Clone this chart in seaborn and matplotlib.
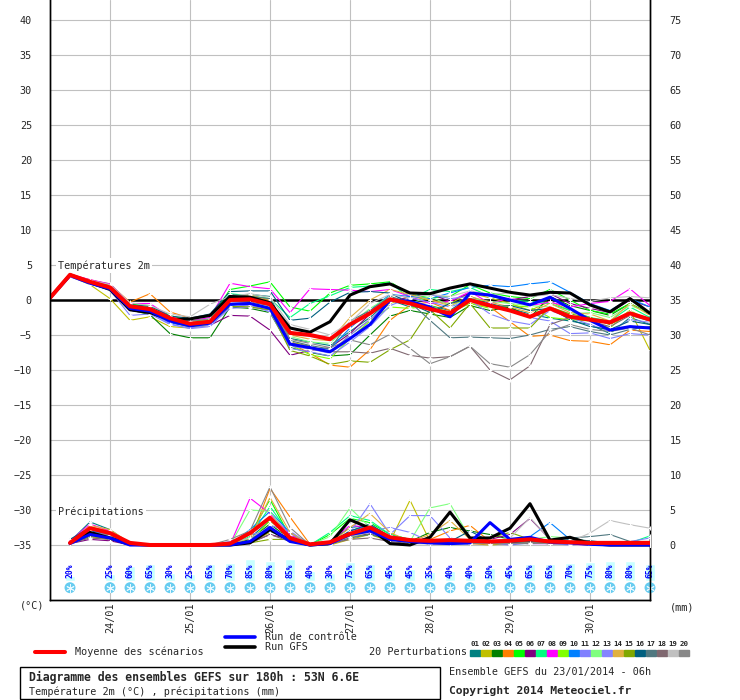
import numpy as np
import pandas as pd
import matplotlib
matplotlib.use("Agg")
import matplotlib.pyplot as plt
import matplotlib.patches as mpatches
import seaborn as sns

# ---- data -------------------------------------------------------------
steps = list(range(31))                      # 6h steps, 23/01 06h -> +180h
date_ticks = [3, 7, 11, 15, 19, 23, 27]
date_labels = ["24/01", "25/01", "26/01", "27/01", "28/01", "29/01", "30/01"]

snow_steps = [1] + list(range(3, 31))
snow_pct = [20, 25, 60, 65, 30, 25, 65, 70, 85, 80, 85, 40, 30, 75, 65,
            45, 45, 35, 40, 40, 50, 45, 65, 65, 70, 75, 80, 80, 65]

pert_names = [f"{i:02d}" for i in range(1, 21)]
pert_colors = ["#008080", "#c0c000", "#008000", "#ff8000", "#00ff00",
               "#800080", "#00ff80", "#ff00ff", "#80ff00", "#0080ff",
               "#8080ff", "#80ff80", "#8484ff", "#e0b040", "#80a800",
               "#006080", "#507880", "#806870", "#c0c0c0", "#888888"]

mean_t = [0.3, 3.6, 2.6, 1.8, -0.9, -1.3, -2.6, -3.4, -3.1, 0.0, 0.1, -0.6, -4.7, -5.0, -5.6, -3.5,
          -1.9, 0.1, -0.5, -1.3, -1.9, 0.0, -0.8, -1.5, -2.4, -1.2, -2.4, -2.8, -3.2, -1.9, -2.8]
gfs_t = [0.3, 3.6, 2.5, 1.5, -1.4, -1.8, -2.8, -2.7, -2.2, 0.5, 0.4, -0.4, -4.0, -4.6, -3.1, 0.7,
         1.9, 2.3, 1.0, 0.9, 1.7, 2.3, 1.7, 1.1, 0.7, 1.1, 1.0, -0.7, -1.7, 0.2, -1.9]
ctrl_t = [0.3, 3.5, 2.4, 1.6, -1.2, -1.6, -3.0, -3.7, -3.3, -0.6, -0.5, -1.2, -6.3, -6.8, -7.4, -5.5,
          -3.5, 0.0, -0.2, -1.0, -2.4, 1.0, 0.7, 0.0, -0.7, 0.4, -1.2, -2.9, -4.3, -3.8, -4.0]

pert_t = [
    [0.3, 3.5, 2.5, 1.7, -1.0, -1.5, -2.9, -3.5, -3.0, 0.3, 0.8, 0.5, -5.5, -6.0, -6.5, -4.5,
     -2.5, 0.0, -1.0, -0.8, -1.5, 0.5, -0.5, -1.2, -2.0, -2.6, -3.0, -3.5, -4.8, -2.5, -3.5],
    [0.3, 3.4, 2.2, 0.2, -2.9, -2.4, -3.8, -4.0, -3.6, -1.0, -0.8, -1.2, -6.0, -6.6, -7.5, -5.0,
     -2.8, -0.5, 0.5, 0.0, -0.5, 1.0, 0.3, -0.5, -1.5, -0.2, -1.5, -2.5, -3.5, -1.5, -7.2],
    [0.3, 3.5, 2.6, 1.6, -1.4, -2.1, -4.8, -5.4, -5.4, -1.0, -1.2, -1.8, -6.8, -7.5, -8.0, -7.8,
     -5.0, -2.3, -1.5, -2.0, -2.5, -0.8, -1.5, -1.0, -2.5, 0.5, -0.8, -1.5, -2.2, -0.5, -2.0],
    [0.3, 3.6, 2.9, 2.2, -0.3, 0.9, -1.7, -2.6, -2.2, 0.3, 0.6, -0.2, -6.2, -7.6, -9.3, -9.6,
     -7.1, -2.9, -0.7, -0.3, -1.5, -0.5, -1.0, -3.1, -5.2, -5.0, -5.8, -5.9, -6.4, -4.3, -4.5],
    [0.3, 3.7, 2.8, 2.3, -0.6, -0.8, -2.2, -3.0, -2.8, 1.5, 2.0, 2.6, -1.0, -1.6, 1.0, 2.1,
     2.3, 2.6, 0.8, 0.3, 0.5, 2.2, 1.0, 0.5, 0.2, 1.5, 0.0, -1.5, -2.0, -0.5, -2.0],
    [0.3, 3.6, 2.5, 1.5, -1.5, -1.9, -3.2, -3.8, -3.6, -2.2, -2.3, -4.3, -7.9, -7.2, -6.8, -4.8,
     -2.0, -0.3, 0.5, 0.9, -0.2, 1.0, 0.8, 0.0, 0.5, 0.9, -0.5, -1.2, -1.8, 0.0, -1.0],
    [0.3, 3.6, 2.7, 2.0, -0.8, -1.0, -2.7, -3.3, -2.9, 0.9, 0.6, 0.2, -2.5, -0.5, 0.6, 1.8,
     2.0, 2.5, 0.2, 1.5, 1.2, 1.8, 0.5, 0.0, -0.2, -0.5, -1.5, -2.5, -3.0, -1.0, -2.5],
    [0.3, 3.7, 2.9, 2.3, -0.5, -0.5, -2.4, -3.0, -2.5, 2.4, 1.9, 1.6, -1.8, 1.6, 1.5, 1.4,
     1.2, 1.5, 0.5, -0.5, -0.2, 1.2, -0.5, 0.3, -0.8, -0.3, -1.0, -0.5, -0.2, 1.6, -0.8],
    [0.3, 3.5, 2.6, 1.8, -1.2, -1.4, -3.1, -3.9, -3.5, -0.5, -0.6, -1.0, -6.4, -7.8, -8.4, -5.5,
     -3.0, -1.0, -1.2, -0.8, -1.8, -0.5, -1.2, -0.8, -1.0, -2.5, -2.8, -3.0, -4.0, -1.5, -3.0],
    [0.3, 3.4, 2.4, 1.5, -1.3, -1.8, -3.3, -3.7, -3.4, -0.8, -0.4, -1.3, -6.2, -6.9, -7.0, -4.0,
     -1.5, 0.8, 0.5, 0.2, 1.0, 1.8, 2.1, 1.9, 2.3, 2.6, 1.1, -0.5, -1.5, 0.2, -1.0],
    [0.3, 3.3, 2.3, 1.4, -2.2, -2.0, -3.5, -4.0, -3.6, -1.2, -1.0, -1.5, -6.6, -7.0, -7.6, -5.0,
     -2.8, -0.2, 1.0, 0.8, 0.2, 0.5, -1.0, -1.5, -2.5, -3.0, -4.8, -4.7, -5.5, -4.8, -5.0],
    [0.3, 3.6, 2.7, 1.9, -1.0, -1.1, -2.9, -3.6, -3.3, -0.3, 0.2, -0.5, -5.2, -6.0, -6.2, -3.5,
     -1.2, 0.5, -0.5, 0.5, -0.8, 0.2, -0.2, -0.5, -0.8, -1.0, -2.0, -1.8, -2.5, -0.8, -1.8],
    [0.3, 3.5, 2.5, 1.6, -1.6, -1.7, -3.4, -4.1, -3.8, -1.0, -0.7, -1.7, -6.9, -7.4, -8.0, -6.0,
     -3.8, -0.8, 0.3, -0.3, -1.0, 0.0, -2.0, -3.0, -3.5, -1.5, -2.5, -3.5, -4.5, -2.8, -3.2],
    [0.3, 3.6, 2.8, 2.1, -0.9, -1.2, -2.6, -3.2, -2.9, 0.6, 0.7, 0.0, -5.0, -5.6, -5.8, -2.5,
     0.0, 1.5, 0.8, 0.0, -0.8, 0.5, -0.3, -1.0, -1.8, -0.5, -1.8, -2.0, -3.0, -0.5, -2.2],
    [0.3, 3.5, 2.6, 1.7, -1.3, -1.5, -3.0, -3.6, -3.2, -0.9, -1.0, -1.4, -7.2, -8.0, -9.2, -8.7,
     -8.9, -7.1, -5.7, -1.4, -4.0, -0.5, -4.0, -4.0, -4.0, -1.0, -2.0, -2.5, -3.5, -2.0, -3.0],
    [0.3, 3.6, 2.7, 2.0, -0.7, -0.9, -2.3, -2.6, -2.0, 1.2, 1.3, 1.3, -2.9, -2.6, -0.3, 1.1,
     1.2, 1.0, -0.5, -1.8, -0.5, 0.2, -1.0, -0.8, -1.5, -1.2, -2.8, -3.8, -4.2, -3.0, -3.5],
    [0.3, 3.5, 2.6, 1.8, -1.1, -1.3, -2.8, -3.4, -3.1, 0.8, 0.5, 0.2, -5.8, -6.5, -7.0, -3.0,
     -1.5, 0.5, -0.3, -2.9, -5.4, -5.3, -5.4, -5.5, -5.0, -4.2, -3.8, -4.5, -5.0, -4.2, -3.8],
    [0.3, 3.5, 2.5, 1.7, -1.2, -1.6, -3.0, -3.7, -3.3, -0.2, -0.3, -0.8, -6.0, -7.0, -7.4, -7.4,
     -7.6, -6.9, -7.9, -8.3, -8.1, -6.6, -10.0, -11.4, -9.4, -3.5, -2.5, -3.0, -3.8, -2.2, -3.0],
    [0.3, 3.6, 2.8, 2.2, -0.4, -0.8, -2.0, -2.4, -0.6, 0.5, 0.9, 0.4, -3.5, -4.2, -5.0, -3.2,
     -0.5, 0.8, 0.3, 0.8, 0.5, 1.3, 0.8, 1.0, 0.5, 0.8, 0.2, -0.2, 0.3, 0.5, 0.3],
    [0.3, 3.6, 2.7, 1.9, -0.8, -1.1, -2.6, -3.0, -2.7, 0.4, 0.3, -0.5, -5.6, -6.2, -6.8, -5.7,
     -6.4, -4.9, -6.9, -9.1, -8.1, -6.6, -9.1, -9.6, -7.8, -4.5, -3.5, -4.2, -4.5, -4.0, -5.0],
]

nan = np.nan
mean_p = [nan, 0.3, 2.4, 1.7, 0.3, 0, 0, 0, 0, 0.2, 1.7, 3.9, 1.0, 0.1, 0.4, 1.6,
          2.5, 1.1, 0.7, 0.6, 0.7, 0.6, 0.5, 0.6, 0.8, 0.5, 0.4, 0.3, 0.3, 0.3, 0.3]
gfs_p = [nan, 0.3, 1.8, 1.0, 0.1, 0, 0, 0, 0, 0, 0.3, 2.2, 0.7, 0.0, 0.2, 3.6,
         2.4, 0.2, 0.0, 1.1, 4.7, 1.0, 1.0, 2.4, 5.9, 0.7, 1.1, 0.2, 0, 0, 0]
ctrl_p = [nan, 0.2, 1.5, 1.0, 0.0, 0, 0, 0, 0, 0, 0.5, 2.5, 0.5, 0.0, 0.2, 1.5,
          2.0, 0.8, 0.5, 0.3, 0.2, 0.3, 3.2, 0.8, 1.1, 0.4, 0.3, 0.1, 0, 0, 0]

pert_p = [
    [nan, 0.5, 3.3, 2.2, 0.2, 0, 0, 0, 0, 0, 1.0, 3.5, 1.2, 0.0, 0.5, 2.5, 2.8, 1.2, 0.5, 0.3, 0.2, 0.3, 0.5, 0.8, 0.3, 0.2, 0.3, 0.5, 0.3, 0.2, 0.5],
    [nan, 0.2, 1.2, 0.8, 0.0, 0, 0, 0, 0, 0, 0.3, 1.8, 1.8, 0.0, 0.0, 0.8, 1.5, 0.5, 6.4, 0.5, 0.3, 0.2, 0.0, 0.2, 0.5, 0.3, 0.2, 0.0, 0.2, 0.0, 0.0],
    [nan, 0.3, 2.0, 1.5, 0.1, 0, 0, 0, 0, 0, 0.8, 3.0, 0.8, 0.0, 0.3, 1.5, 2.0, 0.8, 0.5, 1.8, 2.5, 2.0, 1.5, 0.8, 0.5, 0.3, 0.3, 0.3, 0.2, 0.2, 0.4],
    [nan, 0.4, 2.6, 2.0, 0.3, 0, 0, 0, 0, 0, 0.5, 8.1, 4.0, 0.1, 0.2, 1.0, 2.2, 0.8, 0.5, 0.8, 2.0, 2.8, 0.5, 0.3, 0.2, 0.5, 0.2, 0.0, 0.0, 0.2, 0.3],
    [nan, 0.3, 2.2, 1.8, 0.2, 0, 0, 0, 0, 0, 1.5, 6.5, 1.2, 0.0, 1.5, 3.8, 3.2, 1.5, 0.8, 0.5, 0.3, 0.3, 0.5, 0.5, 0.3, 0.3, 0.2, 0.2, 0.0, 0.2, 0.5],
    [nan, 0.2, 0.8, 0.6, 0.0, 0, 0, 0, 0, 0, 0.3, 1.5, 0.8, 0.0, 0.2, 1.2, 1.6, 0.8, 0.3, 0.2, 0.2, 0.5, 0.8, 1.5, 3.8, 0.8, 0.4, 0.2, 0.0, 0.0, 0.0],
    [nan, 0.4, 2.4, 1.9, 0.2, 0, 0, 0, 0, 0, 1.2, 5.5, 1.5, 0.0, 1.8, 4.2, 3.5, 1.5, 0.8, 0.6, 0.5, 0.3, 0.5, 0.3, 0.5, 0.5, 0.3, 0.2, 0.2, 0.3, 1.3],
    [nan, 0.6, 3.0, 2.0, 0.2, 0, 0, 0, 0, 0, 6.7, 4.5, 1.5, 0.0, 0.5, 2.8, 2.5, 1.0, 0.5, 0.3, 0.3, 0.2, 0.2, 0.3, 0.2, 0.2, 0.1, 0.0, 0.0, 0.0, 0.0],
    [nan, 0.3, 1.8, 1.2, 0.1, 0, 0, 0, 0, 0, 0.5, 3.5, 1.0, 0.0, 0.3, 1.8, 2.2, 1.0, 0.3, 0.2, 0.3, 0.2, 0.3, 0.5, 0.3, 0.2, 0.2, 0.1, 0.0, 0.0, 0.2],
    [nan, 0.5, 2.0, 1.5, 0.2, 0, 0, 0, 0, 0, 2.2, 4.8, 1.8, 0.0, 0.2, 2.0, 2.8, 1.0, 0.5, 0.3, 0.2, 0.2, 0.5, 0.8, 1.2, 3.2, 0.8, 0.2, 0.2, 0.0, 0.0],
    [nan, 0.3, 2.2, 1.6, 0.0, 0, 0, 0, 0, 0, 0.5, 2.8, 2.0, 0.0, 0.3, 1.8, 5.9, 1.5, 4.2, 4.2, 1.0, 0.5, 0.3, 0.0, 0.3, 0.2, 0.0, 0.2, 0.0, 0.5, 1.0],
    [nan, 0.3, 1.5, 1.0, 0.1, 0, 0, 0, 0, 0, 5.0, 4.8, 1.0, 0.0, 1.2, 5.3, 2.5, 1.2, 0.5, 5.3, 5.9, 1.0, 0.5, 0.3, 0.8, 1.2, 1.0, 0.5, 0.3, 0.2, 0.5],
    [nan, 0.2, 1.8, 1.5, 0.0, 0, 0, 0, 0, 0.5, 1.5, 2.0, 1.2, 0.3, 0.2, 1.0, 2.0, 2.5, 1.8, 0.5, 0.3, 0.2, 0.5, 0.3, 0.2, 0.2, 0.1, 0.2, 0.0, 0.5, 0.3],
    [nan, 0.4, 2.8, 2.2, 0.3, 0, 0, 0, 0, 0, 1.0, 6.8, 1.8, 0.0, 0.2, 2.5, 4.5, 1.8, 0.5, 1.5, 3.5, 0.8, 0.3, 0.5, 0.3, 0.2, 0.2, 0.0, 0.0, 0.0, 0.0],
    [nan, 0.2, 1.2, 1.0, 0.0, 0, 0, 0, 0, 0, 0.3, 0.8, 0.8, 0.0, 0.3, 1.2, 1.5, 0.8, 0.3, 0.5, 0.5, 0.5, 1.0, 1.8, 0.8, 0.5, 0.3, 0.2, 0.0, 0.0, 0.0],
    [nan, 0.8, 2.5, 1.8, 0.2, 0, 0, 0, 0, 0, 0.5, 2.0, 0.5, 0.0, 0.3, 2.0, 3.0, 1.2, 0.5, 0.3, 0.5, 2.0, 0.5, 0.3, 0.5, 0.3, 0.8, 0.6, 0.3, 0.2, 0.2],
    [nan, 0.3, 1.5, 1.2, 0.0, 0, 0, 0, 0, 0, 0.5, 2.5, 0.8, 0.0, 0.2, 1.0, 1.5, 0.8, 0.3, 0.2, 0.2, 0.2, 0.3, 0.2, 0.2, 0.5, 1.0, 1.2, 1.5, 0.5, 0.5],
    [nan, 0.2, 1.0, 0.8, 0.0, 0, 0, 0, 0, 0, 0.3, 1.5, 0.5, 0.0, 0.2, 0.8, 1.0, 0.5, 0.2, 0.2, 0.2, 0.3, 0.2, 0.2, 0.3, 0.2, 0.2, 0.0, 0.2, 0.3, 0.3],
    [nan, 0.3, 1.5, 1.2, 0.0, 0, 0, 0, 0, 0.3, 1.0, 2.5, 1.0, 0.0, 0.2, 1.2, 1.8, 1.0, 0.3, 0.2, 0.3, 0.5, 0.5, 1.0, 3.9, 0.8, 0.5, 1.7, 3.5, 2.9, 2.4],
    [nan, 0.3, 1.8, 1.4, 0.1, 0, 0, 0, 0, 0.8, 2.0, 8.3, 2.5, 0.0, 0.2, 1.5, 2.2, 1.0, 0.5, 0.3, 0.2, 0.3, 0.2, 0.2, 0.3, 0.2, 0.3, 0.3, 0.2, 0.2, 0.4],
]

# ---- figure -------------------------------------------------------------
sns.set_theme(style="white")
plt.rcParams["font.family"] = ["DejaVu Sans Mono", "DejaVu Sans"]
FS = 7.3

fig = plt.figure(figsize=(7.4, 7.0), dpi=100)
ax = fig.add_axes([50 / 740, 100 / 700, 600 / 740, 600 / 700])
ax2 = ax.twinx()
ylo, yhi = -35 - 55 / 7, 40 + 20 / 7
ax.set_xlim(0, 30)
ax.set_ylim(ylo, yhi)
ax2.set_ylim(ylo + 35, yhi + 35)

# long tables for seaborn
rows_t, rows_p = [], []
for name, tv, pv in zip(pert_names, pert_t, pert_p):
    for s, t, p in zip(steps, tv, pv):
        rows_t.append((name, s, t))
        rows_p.append((name, s, p))
df_t = pd.DataFrame(rows_t, columns=["member", "step", "val"])
df_p = pd.DataFrame(rows_p, columns=["member", "step", "val"]).dropna()
pal = dict(zip(pert_names, pert_colors))

line_kw = dict(x="step", y="val", hue="member", palette=pal, legend=False,
               estimator=None, linewidth=0.8, marker="+", markersize=3,
               markeredgewidth=0.7)
sns.lineplot(data=df_t, ax=ax, zorder=3, **line_kw)
sns.lineplot(data=df_p, ax=ax2, zorder=3, **line_kw)

for a, series in ((ax, (gfs_t, ctrl_t, mean_t)), (ax2, (gfs_p, ctrl_p, mean_p))):
    g, c, m = series
    sns.lineplot(x=steps, y=g, ax=a, color="black", linewidth=2.2, zorder=4)
    sns.lineplot(x=steps, y=c, ax=a, color="#0000ff", linewidth=2.2, zorder=5)
    sns.lineplot(x=steps, y=m, ax=a, color="#ff0000", linewidth=2.9, zorder=6)

ax.axhline(0, color="black", linewidth=1.8, zorder=2)

# grid and axes
ax.set_yticks(range(-35, 41, 5))
ax2.set_yticks(range(0, 76, 5))
ax.set_xticks(date_ticks)
ax.set_xticklabels(date_labels, rotation=90, fontsize=FS)
ax.grid(True, color="#c0c0c0", linewidth=0.8, zorder=0)
ax.set_axisbelow(True)
ax.tick_params(axis="y", length=0, pad=13, labelsize=FS)
ax.tick_params(axis="x", length=0, pad=2)
ax2.tick_params(axis="y", length=0, pad=14, labelsize=FS)
ax.set_xlabel("")
ax.set_ylabel("")
ax2.set_ylabel("")
for a in (ax, ax2):
    a.spines["top"].set_visible(False)
    for side in ("left", "bottom", "right"):
        a.spines[side].set_color("black")
        a.spines[side].set_linewidth(1.0)

ax.text(0.4, 4.9, "Températures 2m", fontsize=FS, va="center", zorder=2.5,
        bbox=dict(facecolor="white", edgecolor="none", pad=1.5))
ax.text(0.4, -30.3, "Précipitations", fontsize=FS, va="center", zorder=2.5,
        bbox=dict(facecolor="white", edgecolor="none", pad=1.5))

# snow probability strip
bar_base = -40.1
ax.bar(snow_steps, [p * 0.25 / 7 for p in snow_pct], bottom=bar_base, width=0.5,
       color="#c8ffff", zorder=1, clip_on=False)
for s, p in zip(snow_steps, snow_pct):
    ax.text(s, -38.7, f"{p}%", rotation=90, ha="center", va="center",
            fontsize=5.8, color="#0000ff", fontweight="bold", zorder=2,
            clip_on=False)
ax.scatter(snow_steps, [-41.1] * len(snow_steps), s=62, color="#66ccf0",
           edgecolors="none", zorder=7, clip_on=False)
ax.scatter(snow_steps, [-41.1] * len(snow_steps), s=30, marker=(6, 2, 0),
           color="#e8f8ff", linewidths=0.7, zorder=7.2, clip_on=False)

# ---- legend / captions in pixel coordinates --------------------------------
lg = fig.add_axes([0, 0, 1, 1], facecolor="none")
lg.set_xlim(0, 740)
lg.set_ylim(700, 0)
lg.axis("off")

lg.text(20, 606, "(°C)", fontsize=FS, va="center")
lg.text(670, 607, "(mm)", fontsize=FS, va="center")

lg.plot([35, 65], [652, 652], color="#ff0000", linewidth=2.9)
lg.text(75, 652, "Moyenne des scénarios", fontsize=FS, va="center")
lg.plot([225, 255], [637, 637], color="#0000ff", linewidth=2.6)
lg.text(265, 637, "Run de contrôle", fontsize=FS, va="center")
lg.plot([225, 255], [647, 647], color="black", linewidth=2.6)
lg.text(265, 647, "Run GFS", fontsize=FS, va="center")
lg.text(369, 652, "20 Perturbations", fontsize=FS, va="center")
for i, (name, col) in enumerate(zip(pert_names, pert_colors)):
    x0 = 470 + 11 * i
    lg.add_patch(mpatches.Rectangle((x0, 650), 10, 6, color=col))
    lg.text(x0 + 5, 644, name, fontsize=5.3, ha="center", va="center",
            fontweight="bold")

lg.add_patch(mpatches.Rectangle((20, 667), 420, 32, fill=False,
                                edgecolor="black", linewidth=1.0))
lg.text(29, 677, "Diagramme des ensembles GEFS sur 180h : 53N 6.6E",
        fontsize=8.3, fontweight="bold", va="center")
lg.text(29, 692, "Température 2m (°C) , précipitations (mm)", fontsize=FS,
        va="center")
lg.text(449, 672, "Ensemble GEFS du 23/01/2014 - 06h", fontsize=FS, va="center")
lg.text(449, 691, "Copyright 2014 Meteociel.fr", fontsize=8.1,
        fontweight="bold", va="center")

fig.savefig("out.png", dpi=100)
